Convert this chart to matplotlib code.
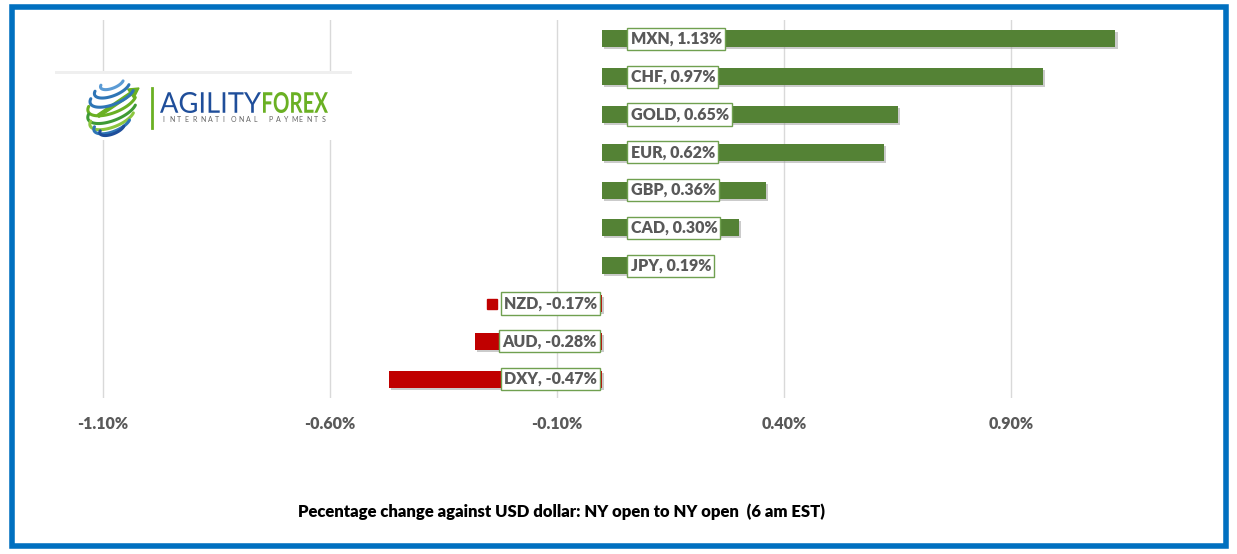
import numpy as np
import matplotlib.pyplot as plt
import matplotlib.patheffects as pe
from matplotlib.patches import Rectangle, FancyArrow, PathPatch
from matplotlib.textpath import TextPath
from matplotlib.font_manager import FontProperties
from matplotlib.transforms import Affine2D

plt.rcParams['font.family'] = ['Lato', 'DejaVu Sans']

# Data, top to bottom
currencies = ['MXN', 'CHF', 'GOLD', 'EUR', 'GBP', 'CAD', 'JPY', 'NZD', 'AUD', 'DXY']
changes = [1.13, 0.97, 0.65, 0.62, 0.36, 0.30, 0.19, -0.17, -0.28, -0.47]
ticks = [-1.10, -0.60, -0.10, 0.40, 0.90]
tick_labels = ['-1.10%', '-0.60%', '-0.10%', '0.40%', '0.90%']

W, H = 1237, 554
fig = plt.figure(figsize=(W / 100, H / 100), dpi=100)
fig.patch.set_facecolor('white')

# chart area in pixels
left_px, right_px, top_px, bot_px = 57.6, 1200, 20, 398
ax = fig.add_axes([left_px / W, 1 - bot_px / H, (right_px - left_px) / W, (bot_px - top_px) / H])
ax.set_xlim(-1.2, -1.2 + (right_px - left_px) / 454)
ax.set_ylim(9.5, -0.5)

colors = ['#548235' if v >= 0 else '#c00000' for v in changes]
y = list(range(len(currencies)))
bars = ax.barh(y, changes, height=0.45, color=colors, zorder=2)
for b in bars:
    b.set_path_effects([pe.SimplePatchShadow(offset=(1.5, -1.5), shadow_rgbFace='#999999', alpha=0.5), pe.Normal()])

labels = []
for yi, name, v in zip(y, currencies, changes):
    txt = f'{name}, {v:.2f}%'
    box = dict(boxstyle='square,pad=0.2', facecolor='white', edgecolor='#70a050', linewidth=1)
    if v >= 0:
        t = ax.text(0.062, yi, txt, ha='left', va='center', fontsize=11.5, fontweight='heavy',
                    color='#595959', bbox=box, zorder=4)
    else:
        t = ax.text(-0.012, yi, txt, ha='right', va='center', fontsize=11.5, fontweight='heavy',
                    color='#595959', bbox=box, zorder=4)
    labels.append(t)

ax.set_xticks(ticks)
ax.set_xticklabels(tick_labels, fontsize=11.5, fontweight='heavy', color='#595959')
ax.set_yticks([])
ax.tick_params(axis='x', length=0, pad=13)
ax.grid(axis='x', color='#d9d9d9', linewidth=1, zorder=0)
for s in ax.spines.values():
    s.set_visible(False)

# legend-key squares at the left of each label box
fig.canvas.draw()
inv = ax.transData.inverted()
for t, c, yi in zip(labels, colors, y):
    bb = t.get_bbox_patch().get_window_extent()
    kx = inv.transform((bb.x0 - 9, 0))[0]
    ax.plot(kx, yi, marker='s', markersize=7.5, color=c, zorder=3, linestyle='none')

# footer
fig.text(561 / W, 1 - 512 / H, 'Pecentage change against USD dollar: NY open to NY open  (6 am EST)',
         ha='center', va='center', fontsize=12, fontweight='heavy', color='black')

# logo in pixel coordinates (y down)
lg = fig.add_axes([0, 0, 1, 1], zorder=5)
lg.set_xlim(0, W)
lg.set_ylim(H, 0)
lg.axis('off')
lg.patch.set_alpha(0)
lg.add_patch(Rectangle((55, 72), 297, 68, facecolor='white', edgecolor='none'))
lg.add_patch(Rectangle((55, 71), 297, 3, facecolor='#efefef', edgecolor='none'))

# globe: tilted latitude stripes
cx, cy, R = 112, 106, 26
lats = [-62, -44, -26, -9, 8, 25, 42, 60]
stripe_cols = ['#5b9bd5', '#2e75b6', '#2e75b6', '#6ab023', '#3e9a35', '#8cc63f', '#2e75b6', '#1f4e9a']
rot = np.radians(-22)
tt = np.radians(np.linspace(25, 205, 80))
for lat, c in zip(lats, stripe_cols):
    a = R * np.cos(np.radians(lat))
    b = 0.42 * a
    ex, ey = a * np.cos(tt), b * np.sin(tt)
    xs = cx + ex * np.cos(rot) - ey * np.sin(rot)
    ys = cy + R * np.sin(np.radians(lat)) + ex * np.sin(rot) + ey * np.cos(rot)
    lg.plot(xs, ys, color=c, linewidth=2.2, solid_capstyle='round')
lg.add_patch(FancyArrow(98, 116, 41, -28, width=3.2, head_width=11, head_length=10,
                        color='#6ab023', length_includes_head=True))
lg.plot([152, 152], [88, 128], color='#6ab023', linewidth=2)


def fit_word(word, weight, x0, x1, top, bottom, color):
    tp = TextPath((0, 0), word, size=100, prop=FontProperties(family='Lato', weight=weight))
    ext = tp.get_extents()
    sx = (x1 - x0) / ext.width
    sy = (bottom - top) / ext.height
    tr = Affine2D().translate(-ext.x0, -ext.y0).scale(sx, -sy).translate(x0, bottom)
    lg.add_patch(PathPatch(tr.transform_path(tp), facecolor=color, edgecolor='none'))


fit_word('AGILITY', 'normal', 160, 261, 92, 113, '#1f4e9a')
fit_word('FOREX', 'bold', 263, 328, 92, 113, '#6ab023')
sub = 'INTERNATIONAL PAYMENTS'
for i, ch in enumerate(sub):
    lg.text(162 + i * 7.6, 120, ch, fontsize=5, color='#666666', va='center', ha='left')

# blue frame
lg.add_patch(Rectangle((12, 7), 1214, 539, facecolor='none', edgecolor='#0070c0', linewidth=4))

fig.savefig('out.png', dpi=100)
